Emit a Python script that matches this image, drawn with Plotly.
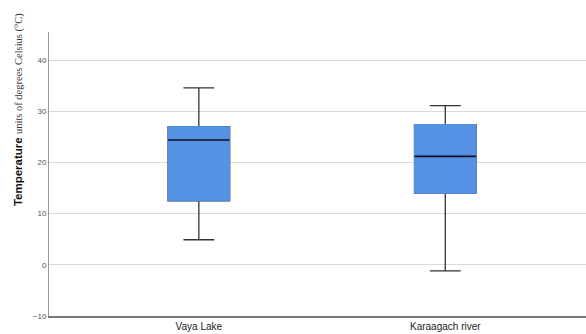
import plotly.graph_objects as go

categories = ["Vaya Lake", "Karaagach river"]
lower_whisker = [4.9, -1.2]
q1_values = [12.5, 14.0]
median_values = [24.4, 21.2]
q3_values = [27.0, 27.4]
upper_whisker = [34.6, 31.1]
y_ticks = [-10, 0, 10, 20, 30, 40]

box_fill = "#5592e3"
fig = go.Figure()
# whiskers
fig.add_trace(go.Box(
    x=categories, q1=q1_values, median=median_values, q3=q3_values,
    lowerfence=lower_whisker, upperfence=upper_whisker,
    width=0.25, whiskerwidth=0.5, line=dict(color="#333333", width=1.3),
    fillcolor=box_fill, hoverinfo="skip", showlegend=False))
# box body without dark border
fig.add_trace(go.Box(
    x=categories, q1=q1_values, median=q1_values, q3=q3_values,
    lowerfence=q1_values, upperfence=q3_values,
    width=0.25, whiskerwidth=0, line=dict(color=box_fill, width=1),
    fillcolor=box_fill, hoverinfo="skip", showlegend=False))
# median line
fig.add_trace(go.Box(
    x=categories, q1=median_values, median=median_values, q3=median_values,
    lowerfence=median_values, upperfence=median_values,
    width=0.25, whiskerwidth=0, line=dict(color="#111122", width=1.6),
    fillcolor="rgba(0,0,0,0)", hoverinfo="skip", showlegend=False))

fig.update_layout(
    width=586, height=334,
    margin=dict(l=49, r=0, t=32, b=18),
    paper_bgcolor="white", plot_bgcolor="white",
    boxmode="overlay",
    font=dict(family="Liberation Sans, Arial, sans-serif"),
    xaxis=dict(
        type="category", range=[-0.608, 1.571],
        showline=True, linecolor="#777777", linewidth=1.5,
        showgrid=False, ticks="", tickfont=dict(size=10, color="#222222"),
        zeroline=False, fixedrange=True,
    ),
    yaxis=dict(
        range=[-10, 45.5], tickvals=y_ticks,
        showline=True, linecolor="#999999", linewidth=1,
        showgrid=True, gridcolor="#d9d9d9", gridwidth=1,
        zeroline=False, ticks="", tickfont=dict(size=8, color="#555555"),
        fixedrange=True,
    ),
    annotations=[dict(
        text="<b>Temperature</b> <span style='font-family:Liberation Serif, Times New Roman, serif;font-size:10.5px;color:#333333'>units of degrees Celsius (°C)</span>",
        font=dict(size=11.5, color="#111111"),
        textangle=-90, showarrow=False,
        xref="paper", yref="paper", x=-0.0577, y=0.725,
        xanchor="center", yanchor="middle",
    )],
)

fig.write_html("out.html", config={"displayModeBar": False},
               post_script="document.body.style.margin='0';")
